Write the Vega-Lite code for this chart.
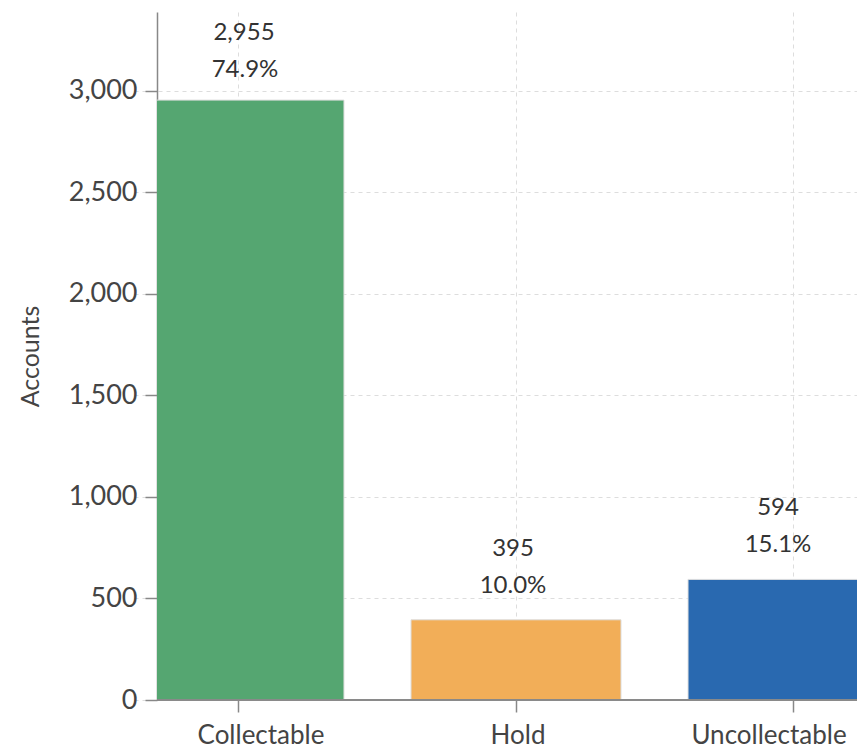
{
  "$schema": "https://vega.github.io/schema/vega-lite/v6.json",
  "autosize": {"type": "none"},
  "width": 700,
  "height": 688,
  "padding": {"left": 157, "top": 12, "right": 0, "bottom": 48},
  "background": "white",
  "config": {
    "font": "Lato",
    "view": {"stroke": null},
    "axis": {
      "labelFont": "Lato",
      "titleFont": "Lato",
      "labelColor": "#444",
      "titleColor": "#444",
      "titleFontWeight": "normal",
      "domainColor": "#888",
      "tickColor": "#888",
      "gridColor": "#ddd",
      "gridDash": [4, 4]
    }
  },
  "data": {
    "values": [
      {"status": "Collectable", "accounts": 2955, "share": 0.749},
      {"status": "Hold", "accounts": 395, "share": 0.100},
      {"status": "Uncollectable", "accounts": 594, "share": 0.151}
    ]
  },
  "encoding": {
    "x": {
      "field": "status",
      "type": "nominal",
      "sort": null,
      "scale": {"range": [-23, 741], "paddingInner": 0.242, "paddingOuter": 0},
      "axis": {
        "title": null,
        "labelAngle": 0,
        "labelFontSize": 26,
        "domain": false,
        "grid": true,
        "bandPosition": 0.5,
        "tickSize": 12,
        "tickWidth": 1.5,
        "labelPadding": 10,
        "labelOffset": {
          "condition": [
            {"test": "datum.value === 'Collectable'", "value": 22},
            {"test": "datum.value === 'Uncollectable'", "value": -24}
          ],
          "value": 2
        }
      }
    },
    "y": {
      "field": "accounts",
      "type": "quantitative",
      "scale": {"domain": [0, 3389], "nice": false},
      "axis": {
        "title": "Accounts",
        "titleFontSize": 25,
        "titlePadding": 25,
        "labelFontSize": 27,
        "values": [0, 500, 1000, 1500, 2000, 2500, 3000],
        "format": ",d",
        "tickSize": 12,
        "tickWidth": 1.5,
        "domainWidth": 1.5,
        "labelPadding": 8
      }
    }
  },
  "layer": [
    {
      "mark": {"type": "bar", "clip": true, "stroke": "#dddddd", "strokeWidth": 1},
      "encoding": {
        "color": {
          "field": "status",
          "type": "nominal",
          "scale": {
            "domain": ["Collectable", "Hold", "Uncollectable"],
            "range": ["#55a671", "#f2ae58", "#2969b0"]
          },
          "legend": null
        }
      }
    },
    {
      "mark": {"type": "rule", "color": "#888", "strokeWidth": 1.5},
      "encoding": {"y": {"datum": 0}, "x": null}
    },
    {
      "mark": {
        "type": "text", "baseline": "middle", "fontSize": 24, "color": "#333",
        "dy": {"expr": "datum.status === 'Collectable' ? -67 : -71"},
        "dx": {"expr": "datum.status === 'Collectable' ? 5 : datum.status === 'Uncollectable' ? -15 : -3"}
      },
      "encoding": {"text": {"field": "accounts", "type": "quantitative", "format": ",d"}}
    },
    {
      "mark": {
        "type": "text", "baseline": "middle", "fontSize": 24, "color": "#333",
        "dy": {"expr": "datum.status === 'Collectable' ? -30 : -34"},
        "dx": {"expr": "datum.status === 'Collectable' ? 6 : datum.status === 'Uncollectable' ? -15 : -3"}
      },
      "encoding": {"text": {"field": "share", "type": "quantitative", "format": ".1%"}}
    }
  ]
}
